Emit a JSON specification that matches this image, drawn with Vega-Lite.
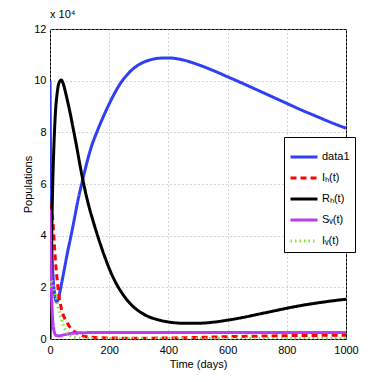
{
  "$schema": "https://vega.github.io/schema/vega-lite/v6.json",
  "width": 296,
  "height": 310,
  "autosize": {"type": "none"},
  "padding": {"left": 50, "top": 29, "right": 36, "bottom": 43},
  "background": "white",
  "config": {
    "font": "Liberation Sans Narrow, Liberation Sans, Arial, sans-serif",
    "view": {"stroke": "black", "strokeWidth": 1},
    "axis": {
      "grid": true,
      "gridColor": "#aaaaaa",
      "gridDash": [1, 3],
      "gridWidth": 1,
      "domain": false,
      "ticks": false,
      "labelFontSize": 11,
      "labelColor": "black",
      "titleFontSize": 11,
      "titleFontWeight": "normal",
      "titleColor": "black",
      "labelFont": "Liberation Sans Narrow, Liberation Sans, Arial, sans-serif",
      "titleFont": "Liberation Sans Narrow, Liberation Sans, Arial, sans-serif"
    }
  },
  "title": {
    "text": "x 10⁴",
    "anchor": "start",
    "frame": "group",
    "fontSize": 11,
    "fontWeight": "normal",
    "font": "Liberation Sans Narrow, Liberation Sans, Arial, sans-serif",
    "offset": 3
  },
  "data": {
    "values": [
      {"s": "data1", "t": 0, "v": 10},
      {"s": "data1", "t": 2, "v": 7},
      {"s": "data1", "t": 4, "v": 5},
      {"s": "data1", "t": 7, "v": 3.3},
      {"s": "data1", "t": 11, "v": 2.3},
      {"s": "data1", "t": 16, "v": 1.7},
      {"s": "data1", "t": 22, "v": 1.45},
      {"s": "data1", "t": 27, "v": 1.5},
      {"s": "data1", "t": 33, "v": 1.8},
      {"s": "data1", "t": 40, "v": 2.2},
      {"s": "data1", "t": 50, "v": 2.8},
      {"s": "data1", "t": 60, "v": 3.4},
      {"s": "data1", "t": 72, "v": 4.05},
      {"s": "data1", "t": 84, "v": 4.75},
      {"s": "data1", "t": 95, "v": 5.4},
      {"s": "data1", "t": 107, "v": 6.0},
      {"s": "data1", "t": 124, "v": 6.8},
      {"s": "data1", "t": 140, "v": 7.45},
      {"s": "data1", "t": 158, "v": 8.0},
      {"s": "data1", "t": 178, "v": 8.55},
      {"s": "data1", "t": 200, "v": 9.1},
      {"s": "data1", "t": 220, "v": 9.55},
      {"s": "data1", "t": 240, "v": 9.93},
      {"s": "data1", "t": 260, "v": 10.22},
      {"s": "data1", "t": 282, "v": 10.47},
      {"s": "data1", "t": 310, "v": 10.68},
      {"s": "data1", "t": 340, "v": 10.81},
      {"s": "data1", "t": 370, "v": 10.87},
      {"s": "data1", "t": 400, "v": 10.88},
      {"s": "data1", "t": 450, "v": 10.8},
      {"s": "data1", "t": 500, "v": 10.62},
      {"s": "data1", "t": 550, "v": 10.4},
      {"s": "data1", "t": 600, "v": 10.15},
      {"s": "data1", "t": 650, "v": 9.9},
      {"s": "data1", "t": 700, "v": 9.64},
      {"s": "data1", "t": 750, "v": 9.38},
      {"s": "data1", "t": 800, "v": 9.12},
      {"s": "data1", "t": 850, "v": 8.86},
      {"s": "data1", "t": 900, "v": 8.62},
      {"s": "data1", "t": 950, "v": 8.38},
      {"s": "data1", "t": 1000, "v": 8.16},

      {"s": "Iₕ(t)", "t": 0, "v": 5.2},
      {"s": "Iₕ(t)", "t": 5, "v": 5.0},
      {"s": "Iₕ(t)", "t": 10, "v": 4.5},
      {"s": "Iₕ(t)", "t": 15, "v": 3.6},
      {"s": "Iₕ(t)", "t": 20, "v": 2.8},
      {"s": "Iₕ(t)", "t": 25, "v": 2.2},
      {"s": "Iₕ(t)", "t": 30, "v": 1.7},
      {"s": "Iₕ(t)", "t": 40, "v": 1.1},
      {"s": "Iₕ(t)", "t": 56, "v": 0.67},
      {"s": "Iₕ(t)", "t": 70, "v": 0.42},
      {"s": "Iₕ(t)", "t": 84, "v": 0.28},
      {"s": "Iₕ(t)", "t": 100, "v": 0.17},
      {"s": "Iₕ(t)", "t": 118, "v": 0.1},
      {"s": "Iₕ(t)", "t": 150, "v": 0.06},
      {"s": "Iₕ(t)", "t": 200, "v": 0.04},
      {"s": "Iₕ(t)", "t": 300, "v": 0.03},
      {"s": "Iₕ(t)", "t": 400, "v": 0.04},
      {"s": "Iₕ(t)", "t": 500, "v": 0.06},
      {"s": "Iₕ(t)", "t": 600, "v": 0.09},
      {"s": "Iₕ(t)", "t": 700, "v": 0.11},
      {"s": "Iₕ(t)", "t": 800, "v": 0.13},
      {"s": "Iₕ(t)", "t": 900, "v": 0.14},
      {"s": "Iₕ(t)", "t": 1000, "v": 0.15},

      {"s": "Rₕ(t)", "t": 0, "v": 0},
      {"s": "Rₕ(t)", "t": 3, "v": 2.2},
      {"s": "Rₕ(t)", "t": 6, "v": 4.2},
      {"s": "Rₕ(t)", "t": 9, "v": 5.9},
      {"s": "Rₕ(t)", "t": 13, "v": 7.4},
      {"s": "Rₕ(t)", "t": 18, "v": 8.7},
      {"s": "Rₕ(t)", "t": 24, "v": 9.5},
      {"s": "Rₕ(t)", "t": 30, "v": 9.9},
      {"s": "Rₕ(t)", "t": 38, "v": 10.03},
      {"s": "Rₕ(t)", "t": 45, "v": 9.87},
      {"s": "Rₕ(t)", "t": 55, "v": 9.42},
      {"s": "Rₕ(t)", "t": 68, "v": 8.75},
      {"s": "Rₕ(t)", "t": 80, "v": 8.05},
      {"s": "Rₕ(t)", "t": 90, "v": 7.45},
      {"s": "Rₕ(t)", "t": 101, "v": 6.75},
      {"s": "Rₕ(t)", "t": 113, "v": 6.05},
      {"s": "Rₕ(t)", "t": 130, "v": 5.2},
      {"s": "Rₕ(t)", "t": 146, "v": 4.55},
      {"s": "Rₕ(t)", "t": 165, "v": 3.85},
      {"s": "Rₕ(t)", "t": 186, "v": 3.15},
      {"s": "Rₕ(t)", "t": 203, "v": 2.65},
      {"s": "Rₕ(t)", "t": 225, "v": 2.12},
      {"s": "Rₕ(t)", "t": 248, "v": 1.7},
      {"s": "Rₕ(t)", "t": 275, "v": 1.32},
      {"s": "Rₕ(t)", "t": 304, "v": 1.05},
      {"s": "Rₕ(t)", "t": 330, "v": 0.88},
      {"s": "Rₕ(t)", "t": 360, "v": 0.76},
      {"s": "Rₕ(t)", "t": 400, "v": 0.66},
      {"s": "Rₕ(t)", "t": 450, "v": 0.61},
      {"s": "Rₕ(t)", "t": 500, "v": 0.61},
      {"s": "Rₕ(t)", "t": 550, "v": 0.65},
      {"s": "Rₕ(t)", "t": 600, "v": 0.73},
      {"s": "Rₕ(t)", "t": 650, "v": 0.83},
      {"s": "Rₕ(t)", "t": 700, "v": 0.95},
      {"s": "Rₕ(t)", "t": 750, "v": 1.07},
      {"s": "Rₕ(t)", "t": 800, "v": 1.19},
      {"s": "Rₕ(t)", "t": 850, "v": 1.3},
      {"s": "Rₕ(t)", "t": 900, "v": 1.39},
      {"s": "Rₕ(t)", "t": 950, "v": 1.47},
      {"s": "Rₕ(t)", "t": 1000, "v": 1.54},

      {"s": "Sᵥ(t)", "t": 0, "v": 5.0},
      {"s": "Sᵥ(t)", "t": 3, "v": 3.0},
      {"s": "Sᵥ(t)", "t": 6, "v": 1.5},
      {"s": "Sᵥ(t)", "t": 10, "v": 0.6},
      {"s": "Sᵥ(t)", "t": 15, "v": 0.25},
      {"s": "Sᵥ(t)", "t": 20, "v": 0.14},
      {"s": "Sᵥ(t)", "t": 30, "v": 0.12},
      {"s": "Sᵥ(t)", "t": 50, "v": 0.17},
      {"s": "Sᵥ(t)", "t": 70, "v": 0.21},
      {"s": "Sᵥ(t)", "t": 100, "v": 0.24},
      {"s": "Sᵥ(t)", "t": 200, "v": 0.255},
      {"s": "Sᵥ(t)", "t": 400, "v": 0.255},
      {"s": "Sᵥ(t)", "t": 600, "v": 0.255},
      {"s": "Sᵥ(t)", "t": 800, "v": 0.255},
      {"s": "Sᵥ(t)", "t": 1000, "v": 0.255},

      {"s": "Iᵥ(t)", "t": 0, "v": 2.0},
      {"s": "Iᵥ(t)", "t": 4, "v": 2.3},
      {"s": "Iᵥ(t)", "t": 10, "v": 2.1},
      {"s": "Iᵥ(t)", "t": 20, "v": 1.6},
      {"s": "Iᵥ(t)", "t": 28, "v": 1.2},
      {"s": "Iᵥ(t)", "t": 35, "v": 0.9},
      {"s": "Iᵥ(t)", "t": 45, "v": 0.54},
      {"s": "Iᵥ(t)", "t": 55, "v": 0.3},
      {"s": "Iᵥ(t)", "t": 68, "v": 0.15},
      {"s": "Iᵥ(t)", "t": 85, "v": 0.06},
      {"s": "Iᵥ(t)", "t": 110, "v": 0.03},
      {"s": "Iᵥ(t)", "t": 200, "v": 0.02},
      {"s": "Iᵥ(t)", "t": 400, "v": 0.02},
      {"s": "Iᵥ(t)", "t": 600, "v": 0.02},
      {"s": "Iᵥ(t)", "t": 800, "v": 0.02},
      {"s": "Iᵥ(t)", "t": 1000, "v": 0.02}
    ]
  },
  "mark": {"type": "line", "interpolate": "monotone", "clip": true},
  "encoding": {
    "x": {
      "field": "t", "type": "quantitative", "title": "Time (days)",
      "scale": {"domain": [0, 1000], "nice": false},
      "axis": {"values": [0, 200, 400, 600, 800, 1000], "format": "d", "labelPadding": 5, "titlePadding": 3, "labelFlush": false}
    },
    "y": {
      "field": "v", "type": "quantitative", "title": "Populations",
      "scale": {"domain": [0, 12], "nice": false},
      "axis": {"values": [0, 2, 4, 6, 8, 10, 12], "labelPadding": 4, "titlePadding": 0, "labelFlush": false}
    },
    "color": {
      "field": "s", "type": "nominal", "title": null,
      "scale": {
        "domain": ["data1", "Iₕ(t)", "Rₕ(t)", "Sᵥ(t)", "Iᵥ(t)"],
        "range": ["#2f3ff5", "#ff0000", "#000000", "#b93cf5", "#7fe23f"]
      },
      "legend": {
        "orient": "none",
        "legendX": 234,
        "legendY": 108,
        "symbolType": "stroke",
        "symbolSize": 729,
        "labelFontSize": 11,
        "labelColor": "black",
        "labelFont": "Liberation Sans Narrow, Liberation Sans, Arial, sans-serif",
        "strokeColor": "black",
        "fillColor": "white",
        "padding": 5,
        "rowPadding": 0,
        "labelOffset": 3,
        "cornerRadius": 0
      }
    },
    "strokeDash": {
      "field": "s", "type": "nominal", "title": null,
      "scale": {
        "domain": ["data1", "Iₕ(t)", "Rₕ(t)", "Sᵥ(t)", "Iᵥ(t)"],
        "range": [[1, 0], [6, 4], [1, 0], [1, 0], [1.5, 3]]
      }
    },
    "strokeWidth": {
      "field": "s", "type": "nominal", "title": null,
      "scale": {
        "domain": ["data1", "Iₕ(t)", "Rₕ(t)", "Sᵥ(t)", "Iᵥ(t)"],
        "range": [3, 3, 3, 3, 1.5]
      }
    }
  }
}
